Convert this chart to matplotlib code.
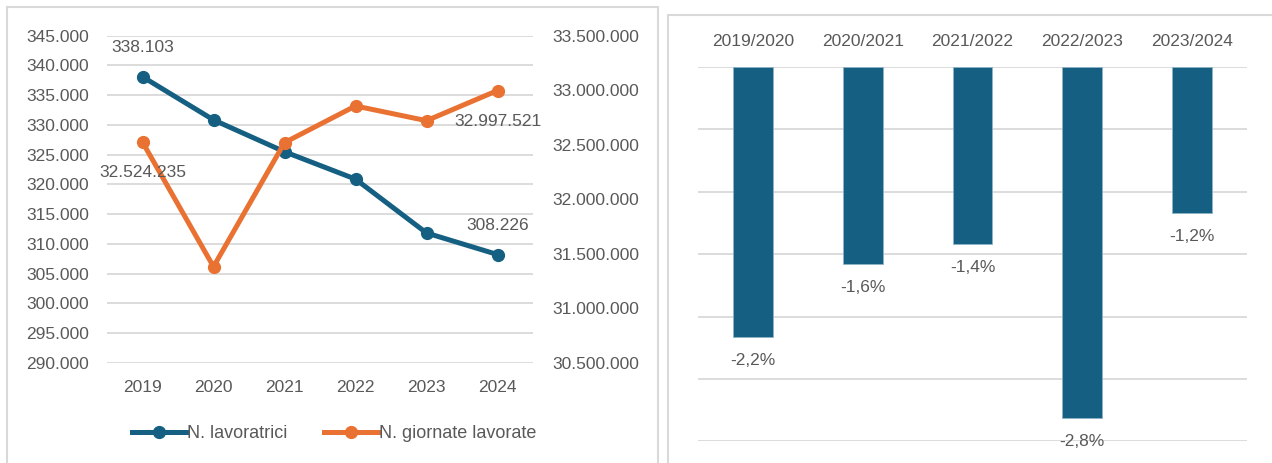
import numpy as np
import matplotlib.pyplot as plt
from matplotlib.patches import Rectangle
from matplotlib.lines import Line2D
from matplotlib.ticker import FuncFormatter, MultipleLocator

# dati
anni = ["2019", "2020", "2021", "2022", "2023", "2024"]
lavoratrici = [338103, 330850, 325500, 320900, 311850, 308226]
giornate = [32524235, 31383000, 32520000, 32856000, 32721000, 32997521]

periodi = ["2019/2020", "2020/2021", "2021/2022", "2022/2023", "2023/2024"]
variazioni = [-2.16, -1.58, -1.42, -2.81, -1.17]

BLU = "#156082"
ARANCIO = "#E97132"
GRIGIO = "#595959"
GRIGLIA = "#D9D9D9"

plt.rcParams['font.family'] = ['Liberation Sans', 'DejaVu Sans']
FS = 12.5

def punti(v, pos=None):
    return f"{v:,.0f}".replace(",", ".")

fig = plt.figure(figsize=(12.72, 4.63), dpi=100)
W, H = 1272, 463

# cornici dei due pannelli
fig.patches.append(Rectangle((7 / W, -0.1), (658 - 7) / W, (H - 7) / H + 0.1, transform=fig.transFigure,
                             fill=False, edgecolor=GRIGLIA, lw=1.5))
fig.patches.append(Rectangle((668 / W, -0.1), 0.5, (H - 15) / H + 0.1, transform=fig.transFigure,
                             fill=False, edgecolor=GRIGLIA, lw=1.5))

# --- grafico a linee ---
ax = fig.add_axes([107 / W, (H - 363) / H, 426 / W, 327.3 / H])
x = np.arange(len(anni))
ax.plot(x, lavoratrici, color=BLU, lw=3.6, marker="o", ms=8.5, zorder=3)
ax.set_xlim(-0.5, len(anni) - 0.5)
ax.set_ylim(290000, 345000)
ax.yaxis.set_major_locator(MultipleLocator(5000))
ax.yaxis.set_major_formatter(FuncFormatter(punti))
ax.grid(axis="y", color=GRIGLIA, lw=1.3)
ax.set_axisbelow(True)
ax.set_xticks(x, anni)
for s in ax.spines.values():
    s.set_visible(False)
ax.tick_params(axis="both", length=0, colors=GRIGIO, labelsize=FS)
ax.tick_params(axis="y", pad=13)
ax.tick_params(axis="x", pad=12)

ax2 = ax.twinx()
ax2.plot(x, giornate, color=ARANCIO, lw=3.6, marker="o", ms=8.5, zorder=3)
ax2.set_ylim(30500000, 33500000)
ax2.yaxis.set_major_locator(MultipleLocator(500000))
ax2.yaxis.set_major_formatter(FuncFormatter(punti))
for s in ax2.spines.values():
    s.set_visible(False)
ax2.tick_params(axis="y", length=0, colors=GRIGIO, labelsize=FS, pad=14)

# etichette dati
ax.annotate(punti(lavoratrici[0]), (x[0], lavoratrici[0]), xytext=(0, 21), textcoords="offset points",
            ha="center", va="center", color=GRIGIO, fontsize=FS)
ax.annotate(punti(lavoratrici[-1]), (x[-1], lavoratrici[-1]), xytext=(0, 21), textcoords="offset points",
            ha="center", va="center", color=GRIGIO, fontsize=FS)
ax2.annotate(punti(giornate[0]), (x[0], giornate[0]), xytext=(0, -22), textcoords="offset points",
             ha="center", va="center", color=GRIGIO, fontsize=FS)
ax2.annotate(punti(giornate[-1]), (x[-1], giornate[-1]), xytext=(0, -22), textcoords="offset points",
             ha="center", va="center", color=GRIGIO, fontsize=FS)

maniglie = [Line2D([], [], color=BLU, lw=3.6, marker="o", ms=8.5),
            Line2D([], [], color=ARANCIO, lw=3.6, marker="o", ms=8.5)]
fig.legend(maniglie, ["N. lavoratrici", "N. giornate lavorate"], loc="center",
           bbox_to_anchor=(334 / W, 29 / H), ncol=2, frameon=False, fontsize=13,
           labelcolor=GRIGIO, handlelength=3.0, handletextpad=0.05, columnspacing=2.0)

# --- grafico a barre ---
bx = fig.add_axes([698 / W, (H - 441.4) / H, 549 / W, 374.4 / H])
xb = np.arange(len(periodi))
bx.bar(xb, variazioni, width=0.364, color=BLU, edgecolor="#8FB3C7", linewidth=0.6, zorder=3)
bx.set_xlim(-0.5, len(periodi) - 0.5)
bx.set_ylim(-3.0, 0)
bx.yaxis.set_major_locator(MultipleLocator(0.5))
bx.grid(axis="y", color=GRIGLIA, lw=1.3)
bx.set_axisbelow(True)
bx.set_yticklabels([])
bx.xaxis.tick_top()
bx.set_xticks(xb, periodi)
for s in bx.spines.values():
    s.set_visible(False)
bx.tick_params(axis="both", length=0, colors=GRIGIO, labelsize=FS)
bx.tick_params(axis="x", pad=13)
for xi, v in zip(xb, variazioni):
    bx.annotate(f"{v:.1f}%".replace(".", ","), (xi, v), xytext=(0, -17), textcoords="offset points",
                ha="center", va="center", color=GRIGIO, fontsize=FS)

fig.savefig("out.png", dpi=100)
